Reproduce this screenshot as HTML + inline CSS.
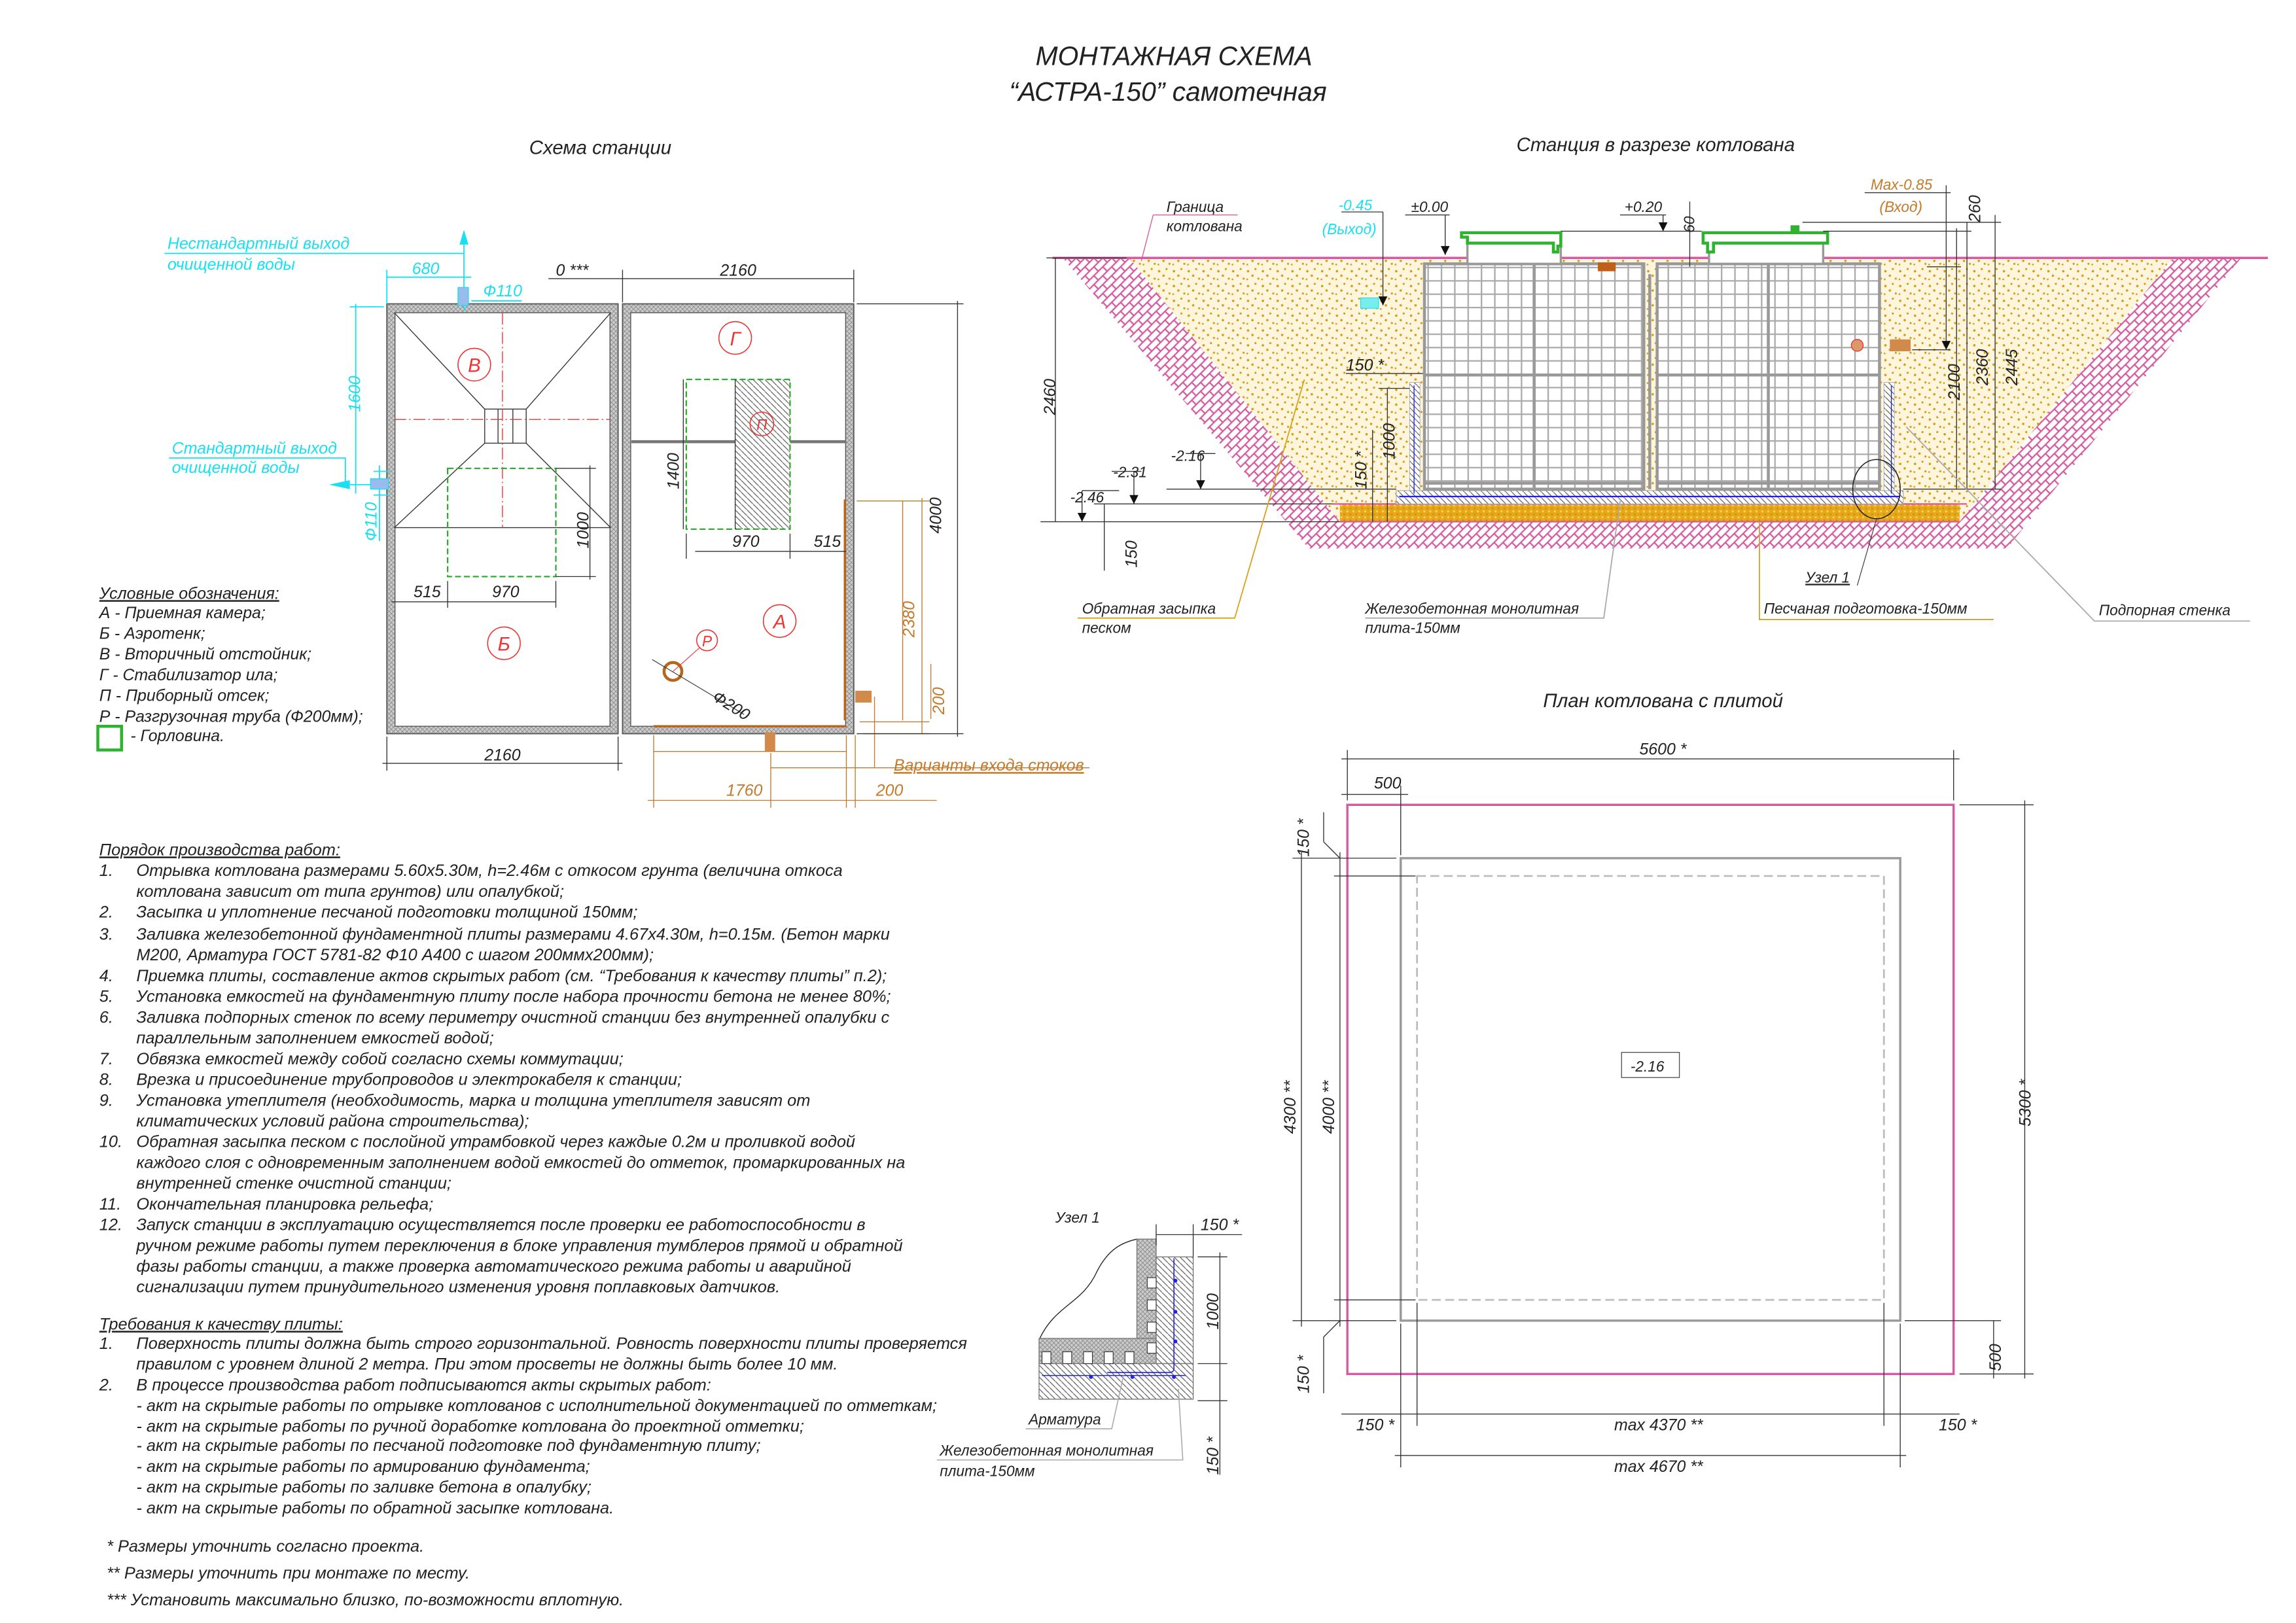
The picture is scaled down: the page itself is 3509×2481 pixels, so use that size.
<!DOCTYPE html>
<html><head><meta charset="utf-8"><style>
html,body{margin:0;padding:0;background:#fff;}
svg{display:block;}
text{font-family:"Liberation Sans","DejaVu Sans",sans-serif;font-style:italic;fill:#222;}
</style></head><body>
<svg width="3509" height="2481" viewBox="0 0 1549 1095" preserveAspectRatio="none" xmlns="http://www.w3.org/2000/svg">
<defs>
<pattern id="sand" width="10" height="10" patternUnits="userSpaceOnUse">
<rect width="10" height="10" fill="#fdf6dc"/>
<circle cx="2" cy="3" r="0.8" fill="#d99a14"/><circle cx="7" cy="1.5" r="0.7" fill="#d99a14"/>
<circle cx="5" cy="6" r="0.8" fill="#d99a14"/><circle cx="9" cy="8" r="0.7" fill="#d99a14"/>
<circle cx="1.5" cy="8.5" r="0.6" fill="#d99a14"/>
</pattern>
<pattern id="hatch" width="6" height="6" patternUnits="userSpaceOnUse">
<rect width="6" height="6" fill="#fff"/>
<path d="M0 6 L6 0 M-1 1 L1 -1 M5 7 L7 5" stroke="#d65aa0" stroke-width="1"/>
<path d="M0 0 L3 3" stroke="#d65aa0" stroke-width="1"/>
</pattern>
<pattern id="wall" width="3" height="3" patternUnits="userSpaceOnUse">
<rect width="3" height="3" fill="#ccc"/><path d="M0 3 L3 0 M0 0 L3 3" stroke="#888" stroke-width="0.4"/>
</pattern>
<pattern id="diag" width="4" height="4" patternUnits="userSpaceOnUse">
<rect width="4" height="4" fill="#fff"/><path d="M0 0 L4 4" stroke="#555" stroke-width="0.5"/>
</pattern>
<pattern id="grid" width="9" height="9" patternUnits="userSpaceOnUse">
<rect width="9" height="9" fill="#fff"/><path d="M0 0.5 H9 M0.5 0 V9" stroke="#aaa" stroke-width="1"/>
</pattern>
<pattern id="slab" width="4" height="4" patternUnits="userSpaceOnUse">
<rect width="4" height="4" fill="#e6a817"/><circle cx="1" cy="1" r="0.7" fill="#f7d36a"/><circle cx="3" cy="3" r="0.6" fill="#c98c0e"/>
</pattern>
</defs>

<text x="792" y="44" font-size="18" text-anchor="middle">МОНТАЖНАЯ СХЕМА</text>
<text x="788" y="68" font-size="18" text-anchor="middle">“АСТРА-150” самотечная</text>
<text x="405" y="104" font-size="13" text-anchor="middle">Схема станции</text>
<text x="1117" y="102" font-size="13" text-anchor="middle">Станция в разрезе котлована</text>
<text x="1122" y="477" font-size="13" text-anchor="middle">План котлована с плитой</text>

<!-- ===== Station scheme ===== -->
<g>
<rect x="261" y="205" width="156" height="290" fill="url(#wall)" stroke="#555" stroke-width="0.8"/>
<rect x="266.5" y="211" width="145" height="279" fill="#fff" stroke="#555" stroke-width="0.6"/>
<rect x="420" y="205" width="156" height="290" fill="url(#wall)" stroke="#555" stroke-width="0.8"/>
<rect x="425.5" y="211" width="145" height="279" fill="#fff" stroke="#555" stroke-width="0.6"/>
<g stroke="#333" stroke-width="0.6" fill="none">
<line x1="266" y1="211" x2="327" y2="276"/><line x1="412" y1="211" x2="355" y2="276"/>
<line x1="327" y1="299" x2="266" y2="356"/><line x1="355" y1="299" x2="412" y2="356"/>
<line x1="266" y1="356" x2="412" y2="356"/>
<rect x="327" y="276" width="28" height="23"/><line x1="336" y1="276" x2="336" y2="299"/><line x1="346" y1="276" x2="346" y2="299"/>
</g>
<line x1="266" y1="283" x2="412" y2="283" stroke="#e33" stroke-width="0.6" stroke-dasharray="8,2,1,2"/>
<line x1="339" y1="211" x2="339" y2="356" stroke="#e33" stroke-width="0.6" stroke-dasharray="8,2,1,2"/>
<rect x="302" y="316" width="73" height="73" fill="none" stroke="#3a3" stroke-width="1" stroke-dasharray="4,2"/>
<rect x="496" y="256" width="37" height="101" fill="url(#diag)"/>
<line x1="426" y1="298" x2="496" y2="298" stroke="#777" stroke-width="2"/><line x1="533" y1="298" x2="571" y2="298" stroke="#777" stroke-width="2"/>
<rect x="463" y="256" width="70" height="101" fill="none" stroke="#3a3" stroke-width="1" stroke-dasharray="4,2"/>
<line x1="496" y1="256" x2="496" y2="357" stroke="#333" stroke-width="0.6"/>
<g fill="none" stroke="#e33" stroke-width="0.7">
<circle cx="320" cy="246" r="11"/><circle cx="496" cy="228" r="11"/><circle cx="514" cy="286" r="8"/>
<circle cx="340" cy="434" r="11"/><circle cx="526" cy="419" r="11"/><circle cx="477" cy="432" r="7"/>
</g>
<g font-size="13" text-anchor="middle">
<text x="320" y="251" style="fill:#e33">В</text><text x="496" y="233" style="fill:#e33">Г</text><text x="514" y="290" font-size="10" style="fill:#e33">П</text>
<text x="340" y="439" style="fill:#e33">Б</text><text x="526" y="424" style="fill:#e33">А</text><text x="477" y="436" font-size="10" style="fill:#e33">Р</text>
</g>
<circle cx="454" cy="453" r="6" fill="none" stroke="#b8651b" stroke-width="2"/>
<line x1="454" y1="453" x2="472" y2="437" stroke="#e33" stroke-width="0.5"/>
<line x1="440" y1="445" x2="502" y2="482" stroke="#333" stroke-width="0.5"/>
<text x="480" y="472" font-size="11" transform="rotate(32 480 472)">Ф200</text>
<line x1="570" y1="337" x2="570" y2="486" stroke="#b8651b" stroke-width="1.5"/>
<line x1="441" y1="490" x2="571" y2="490" stroke="#b8651b" stroke-width="1.5"/>
<rect x="577" y="466" width="11" height="8" fill="#d18a4a"/>
<rect x="516" y="494" width="7" height="13" fill="#d18a4a"/>
<g stroke="#c47a2a" stroke-width="0.6" fill="none">
<line x1="590" y1="470" x2="590" y2="518"/><line x1="520" y1="518" x2="735" y2="518"/>
<line x1="520" y1="508" x2="520" y2="545"/>
<line x1="441" y1="496" x2="441" y2="545"/><line x1="571" y1="496" x2="571" y2="545"/>
<line x1="577" y1="496" x2="577" y2="545"/><line x1="437" y1="540" x2="632" y2="540"/>
<line x1="441" y1="507" x2="571" y2="507"/>
<line x1="578" y1="338" x2="627" y2="338"/><line x1="622" y1="336" x2="622" y2="495"/>
<line x1="580" y1="487" x2="627" y2="487"/><line x1="582" y1="495" x2="627" y2="495"/>
<line x1="609" y1="338" x2="609" y2="486"/><line x1="628" y1="448" x2="628" y2="485"/>
</g>
<text x="617" y="430" font-size="11" transform="rotate(-90 617 430)" style="fill:#c47a2a">2380</text>
<text x="637" y="482" font-size="11" transform="rotate(-90 637 482)" style="fill:#c47a2a">200</text>
<text x="490" y="537" font-size="11" style="fill:#c47a2a">1760</text>
<text x="591" y="537" font-size="11" style="fill:#c47a2a">200</text>
<text x="603" y="520" font-size="11" style="fill:#c47a2a" text-decoration="underline">Варианты входа стоков</text>
<g stroke="#333" stroke-width="0.6">
<line x1="420" y1="182" x2="420" y2="204"/><line x1="576" y1="182" x2="576" y2="204"/>
<line x1="370" y1="188" x2="576" y2="188"/>
<line x1="578" y1="205" x2="650" y2="205"/><line x1="578" y1="495" x2="650" y2="495"/>
<line x1="646" y1="203" x2="646" y2="497"/>
<line x1="261" y1="497" x2="261" y2="520"/><line x1="417" y1="497" x2="417" y2="520"/>
<line x1="258" y1="515" x2="420" y2="515"/>
<line x1="264" y1="406" x2="375" y2="406"/><line x1="302" y1="392" x2="302" y2="410"/><line x1="375" y1="392" x2="375" y2="410"/>
<line x1="375" y1="316" x2="402" y2="316"/><line x1="375" y1="389" x2="402" y2="389"/><line x1="398" y1="314" x2="398" y2="391"/>
<line x1="461" y1="256" x2="461" y2="357"/>
<line x1="469" y1="372" x2="571" y2="372"/><line x1="463" y1="360" x2="463" y2="377"/><line x1="533" y1="360" x2="533" y2="377"/>
</g>
<text x="498" y="186" font-size="11" text-anchor="middle">2160</text>
<text x="375" y="186" font-size="11">0 ***</text>
<text x="635" y="360" font-size="11" transform="rotate(-90 635 360)">4000</text>
<text x="339" y="513" font-size="11" text-anchor="middle">2160</text>
<text x="279" y="403" font-size="11">515</text><text x="332" y="403" font-size="11">970</text>
<text x="397" y="370" font-size="11" transform="rotate(-90 397 370)">1000</text>
<text x="458" y="330" font-size="11" transform="rotate(-90 458 330)">1400</text>
<text x="494" y="369" font-size="11">970</text><text x="549" y="369" font-size="11">515</text>
<!-- cyan -->
<g stroke="#19e0f0" stroke-width="0.8" fill="none">
<line x1="111" y1="171" x2="313" y2="171"/>
<line x1="313" y1="210" x2="313" y2="160"/>
<line x1="261" y1="187" x2="318" y2="187"/><line x1="261" y1="182" x2="261" y2="205"/>
<line x1="240" y1="205" x2="240" y2="333"/><line x1="236" y1="207" x2="259" y2="207"/>
<polyline points="114,309 233,309 233,327 250,327"/>
<line x1="252" y1="318" x2="263" y2="318"/><line x1="252" y1="334" x2="263" y2="334"/>
<line x1="256" y1="314" x2="256" y2="365"/>
<line x1="318" y1="203" x2="352" y2="203"/>
</g>
<polygon points="222,327 236,324 236,330" fill="#19e0f0"/>
<polygon points="313,155 310,165 316,165" fill="#19e0f0"/>
<rect x="309" y="194" width="7" height="12" fill="#9be" stroke="#19e0f0" stroke-width="0.6"/>
<rect x="250" y="323" width="12" height="7" fill="#9be" stroke="#19e0f0" stroke-width="0.6"/>
<text x="113" y="168" font-size="11" style="fill:#19e0f0">Нестандартный выход</text>
<text x="113" y="182" font-size="11" style="fill:#19e0f0">очищенной воды</text>
<text x="278" y="185" font-size="11" style="fill:#19e0f0">680</text>
<text x="326" y="200" font-size="11" style="fill:#19e0f0">Ф110</text>
<text x="243" y="278" font-size="11" style="fill:#19e0f0" transform="rotate(-90 243 278)">1600</text>
<text x="116" y="306" font-size="11" style="fill:#19e0f0">Стандартный выход</text>
<text x="116" y="319" font-size="11" style="fill:#19e0f0">очищенной воды</text>
<text x="254" y="365" font-size="11" style="fill:#19e0f0" transform="rotate(-90 254 365)">Ф110</text>
</g>

<g font-size="11">
<text x="67" y="404" text-decoration="underline">Условные обозначения:</text>
<text x="67" y="417">А - Приемная камера;</text>
<text x="67" y="431">Б - Аэротенк;</text>
<text x="67" y="445">В - Вторичный отстойник;</text>
<text x="67" y="459">Г - Стабилизатор ила;</text>
<text x="67" y="473">П - Приборный отсек;</text>
<text x="67" y="487">Р - Разгрузочная труба (Ф200мм);</text>
<text x="88" y="500">- Горловина.</text>
</g>
<rect x="66" y="490" width="16" height="16" fill="none" stroke="#2db32d" stroke-width="2"/>

<!-- ===== Section ===== -->
<polygon points="717,174 883,370 1354,370 1512,174 1466,174 1322,352 904,352 762,174" fill="url(#hatch)"/>
<polygon points="762,174 904,352 1322,352 1466,174" fill="url(#sand)"/>
<rect x="904" y="340" width="418" height="12" fill="url(#slab)"/>
<line x1="710" y1="174" x2="1530" y2="174" stroke="#d65aa0" stroke-width="1.5"/>
<line x1="904" y1="352" x2="1322" y2="352" stroke="#d65aa0" stroke-width="1"/>
<line x1="899" y1="340" x2="1327" y2="340" stroke="#d65aa0" stroke-width="1"/>
<rect x="942" y="331" width="342" height="9" fill="url(#diag)" stroke="#aaa" stroke-width="0.5"/>
<rect x="951" y="258" width="7" height="73" fill="url(#diag)" stroke="#aaa" stroke-width="0.4"/>
<rect x="1271" y="258" width="7" height="73" fill="url(#diag)" stroke="#aaa" stroke-width="0.4"/>
<line x1="944" y1="335" x2="1282" y2="335" stroke="#22d" stroke-width="1"/>
<line x1="954" y1="260" x2="954" y2="333" stroke="#22d" stroke-width="0.6"/>
<line x1="1276" y1="260" x2="1276" y2="333" stroke="#22d" stroke-width="0.6"/>
<rect x="961" y="178" width="148" height="152" fill="url(#grid)" stroke="#999" stroke-width="2"/>
<rect x="1118" y="178" width="150" height="152" fill="url(#grid)" stroke="#999" stroke-width="2"/>
<g stroke="#999" stroke-width="2">
<line x1="961" y1="253" x2="1109" y2="253"/><line x1="1118" y1="253" x2="1268" y2="253"/>
<line x1="1035" y1="178" x2="1035" y2="330"/><line x1="1193" y1="178" x2="1193" y2="330"/>
<line x1="1113" y1="185" x2="1113" y2="330"/>
<line x1="961" y1="326" x2="1109" y2="326"/><line x1="1118" y1="326" x2="1268" y2="326"/>
</g>
<rect x="990" y="164" width="63" height="14" fill="#fff" stroke="#999" stroke-width="1.5"/>
<rect x="1153" y="164" width="77" height="14" fill="#fff" stroke="#999" stroke-width="1.5"/>
<path d="M986 157 H1053 V166 H1051 V170 H1048 V164 H990 V160 H986 Z" fill="#fff" stroke="#2db32d" stroke-width="2"/>
<path d="M1149 157 H1233 V164 H1156 V170 H1152 V164 H1149 Z" fill="#fff" stroke="#2db32d" stroke-width="2"/>
<rect x="1208" y="152" width="6" height="4" fill="#2db32d"/>
<rect x="1078" y="177" width="12" height="6" fill="#c05e1a"/>
<rect x="918" y="201" width="12" height="7" fill="#7ee" stroke="#19e0f0" stroke-width="0.5"/>
<rect x="1275" y="229" width="14" height="8" fill="#d18a4a"/>
<circle cx="1253" cy="233" r="4" fill="#d99a6a" stroke="#e33" stroke-width="0.6"/>
<ellipse cx="1266" cy="330" rx="16" ry="20" fill="none" stroke="#222" stroke-width="0.7"/>
<g stroke="#333" stroke-width="0.6" fill="none">
<line x1="712" y1="174" x2="712" y2="352"/><line x1="706" y1="174" x2="760" y2="174"/>
<line x1="702" y1="352" x2="904" y2="352"/>
<line x1="738" y1="340" x2="899" y2="340"/><line x1="787" y1="330" x2="942" y2="330"/>
<line x1="730" y1="331" x2="755" y2="331"/><line x1="730" y1="331" x2="730" y2="352"/>
<line x1="750" y1="318" x2="770" y2="318"/><line x1="765" y1="318" x2="765" y2="340"/>
<line x1="800" y1="306" x2="820" y2="306"/><line x1="810" y1="306" x2="810" y2="330"/>
<line x1="745" y1="340" x2="745" y2="385"/>
<line x1="908" y1="252" x2="960" y2="252"/>
<line x1="936" y1="262" x2="936" y2="352"/><line x1="930" y1="262" x2="951" y2="262"/>
<line x1="926" y1="290" x2="926" y2="352"/>
<line x1="905" y1="143" x2="933" y2="143"/><line x1="933" y1="143" x2="933" y2="206"/>
<line x1="948" y1="145" x2="978" y2="145"/><line x1="975" y1="145" x2="975" y2="172"/>
<line x1="1093" y1="145" x2="1124" y2="145"/><line x1="1122" y1="145" x2="1122" y2="156"/>
<line x1="1053" y1="156" x2="1148" y2="156"/>
<line x1="1140" y1="136" x2="1140" y2="180"/>
<line x1="1258" y1="130" x2="1316" y2="130"/><line x1="1313" y1="125" x2="1313" y2="236"/>
<line x1="1230" y1="156" x2="1330" y2="156"/><line x1="1216" y1="150" x2="1350" y2="150"/>
<line x1="1300" y1="180" x2="1323" y2="180"/>
<line x1="1290" y1="236" x2="1316" y2="236"/>
<line x1="1320" y1="154" x2="1320" y2="330"/><line x1="1327" y1="150" x2="1327" y2="330"/>
<line x1="1346" y1="145" x2="1346" y2="330"/>
<line x1="1284" y1="330" x2="1350" y2="330"/>
</g>
<g fill="#111">
<polygon points="975,172 972,166 978,166"/><polygon points="1122,156 1119,150 1125,150"/>
<polygon points="933,206 930,200 936,200"/><polygon points="1313,236 1310,230 1316,230"/>
<polygon points="730,352 727,346 733,346"/><polygon points="765,340 762,334 768,334"/><polygon points="810,330 807,324 813,324"/>
</g>
<text x="712" y="280" font-size="11" transform="rotate(-90 712 280)">2460</text>
<text x="722" y="339" font-size="10">-2.46</text>
<text x="751" y="322" font-size="10">-2.31</text>
<text x="790" y="311" font-size="10">-2.16</text>
<text x="767" y="383" font-size="11" transform="rotate(-90 767 383)">150</text>
<text x="908" y="250" font-size="11">150 *</text>
<text x="941" y="310" font-size="11" transform="rotate(-90 941 310)">1000</text>
<text x="922" y="330" font-size="11" transform="rotate(-90 922 330)">150 *</text>
<text x="1322" y="270" font-size="11" transform="rotate(-90 1322 270)">2100</text>
<text x="1341" y="260" font-size="11" transform="rotate(-90 1341 260)">2360</text>
<text x="1361" y="260" font-size="11" transform="rotate(-90 1361 260)">2445</text>
<text x="1336" y="150" font-size="11" transform="rotate(-90 1336 150)">260</text>
<text x="1143" y="157" font-size="10" transform="rotate(-90 1143 157)">60</text>
<text x="952" y="143" font-size="10">±0.00</text>
<text x="1096" y="143" font-size="10">+0.20</text>
<text x="903" y="142" font-size="10" style="fill:#19e0f0">-0.45</text>
<text x="892" y="158" font-size="10" style="fill:#19e0f0">(Выход)</text>
<text x="1262" y="128" font-size="10" style="fill:#c47a2a">Max-0.85</text>
<text x="1268" y="143" font-size="10" style="fill:#c47a2a">(Вход)</text>
<text x="787" y="143" font-size="10">Граница</text>
<text x="787" y="156" font-size="10">котлована</text>
<line x1="778" y1="145" x2="835" y2="145" stroke="#d65aa0" stroke-width="0.6"/>
<line x1="778" y1="145" x2="770" y2="176" stroke="#d65aa0" stroke-width="0.6"/>
<text x="730" y="414" font-size="10">Обратная засыпка</text>
<text x="730" y="427" font-size="10">песком</text>
<polyline points="727,417 833,417 880,256" fill="none" stroke="#d9a21b" stroke-width="0.8"/>
<text x="921" y="414" font-size="10">Железобетонная монолитная</text>
<text x="921" y="427" font-size="10">плита-150мм</text>
<polyline points="921,417 1082,417 1093,338" fill="none" stroke="#aaa" stroke-width="0.8"/>
<text x="1218" y="393" font-size="10" text-decoration="underline">Узел 1</text>
<line x1="1253" y1="395" x2="1266" y2="350" stroke="#333" stroke-width="0.5"/>
<text x="1190" y="414" font-size="10">Песчаная подготовка-150мм</text>
<polyline points="1345,418 1187,418 1187,352" fill="none" stroke="#d9a21b" stroke-width="0.8"/>
<text x="1416" y="415" font-size="10">Подпорная стенка</text>
<polyline points="1518,419 1413,419 1286,288" fill="none" stroke="#aaa" stroke-width="0.8"/>

<!-- ===== Plan ===== -->
<rect x="909" y="543" width="409" height="384" fill="none" stroke="#d65aa0" stroke-width="1.5"/>
<rect x="945" y="579" width="337" height="312" fill="none" stroke="#999" stroke-width="1.5"/>
<rect x="956" y="591" width="315" height="286" fill="none" stroke="#bbb" stroke-width="1.2" stroke-dasharray="6,3"/>
<rect x="1094" y="710" width="39" height="17" fill="#fff" stroke="#555" stroke-width="0.6"/>
<text x="1100" y="723" font-size="10">-2.16</text>
<g stroke="#333" stroke-width="0.6" fill="none">
<line x1="905" y1="512" x2="1322" y2="512"/><line x1="909" y1="506" x2="909" y2="540"/><line x1="1318" y1="506" x2="1318" y2="540"/>
<line x1="905" y1="536" x2="950" y2="536"/><line x1="945" y1="530" x2="945" y2="577"/>
<line x1="1322" y1="543" x2="1372" y2="543"/><line x1="1366" y1="540" x2="1366" y2="930"/><line x1="1322" y1="927" x2="1372" y2="927"/>
<line x1="1345" y1="891" x2="1345" y2="930"/><line x1="1285" y1="891" x2="1350" y2="891"/>
<line x1="872" y1="579" x2="942" y2="579"/><line x1="872" y1="891" x2="942" y2="891"/>
<line x1="878" y1="575" x2="878" y2="895"/>
<line x1="900" y1="591" x2="955" y2="591"/><line x1="900" y1="877" x2="955" y2="877"/>
<line x1="904" y1="575" x2="904" y2="895"/>
<line x1="904" y1="579" x2="893" y2="568"/><line x1="893" y1="568" x2="893" y2="548"/>
<line x1="904" y1="891" x2="893" y2="902"/><line x1="893" y1="902" x2="893" y2="940"/>
<line x1="945" y1="893" x2="945" y2="990"/><line x1="956" y1="879" x2="956" y2="962"/>
<line x1="1271" y1="879" x2="1271" y2="962"/><line x1="1282" y1="893" x2="1282" y2="990"/>
<line x1="905" y1="954" x2="1322" y2="954"/>
<line x1="941" y1="982" x2="1286" y2="982"/>
</g>
<text x="1106" y="509" font-size="11">5600 *</text>
<text x="927" y="532" font-size="11">500</text>
<text x="1370" y="760" font-size="11" transform="rotate(-90 1370 760)">5300 *</text>
<text x="1350" y="925" font-size="11" transform="rotate(-90 1350 925)">500</text>
<text x="874" y="765" font-size="11" transform="rotate(-90 874 765)">4300 **</text>
<text x="900" y="765" font-size="11" transform="rotate(-90 900 765)">4000 **</text>
<text x="883" y="578" font-size="11" transform="rotate(-90 883 578)">150 *</text>
<text x="883" y="940" font-size="11" transform="rotate(-90 883 940)">150 *</text>
<text x="915" y="965" font-size="11">150 *</text>
<text x="1089" y="965" font-size="11">max 4370 **</text>
<text x="1308" y="965" font-size="11">150 *</text>
<text x="1089" y="993" font-size="11">max 4670 **</text>

<!-- ===== Node 1 ===== -->
<text x="712" y="825" font-size="10">Узел 1</text>
<path d="M701 904 C712 880 730 880 740 858 C748 842 758 838 767 836" fill="none" stroke="#222" stroke-width="0.6"/>
<rect x="767" y="836" width="13" height="84" fill="url(#wall)" stroke="#777" stroke-width="0.6"/>
<rect x="701" y="903" width="79" height="17" fill="url(#wall)" stroke="#777" stroke-width="0.6"/>
<rect x="780" y="848" width="25" height="72" fill="url(#diag)" stroke="#777" stroke-width="0.6"/>
<rect x="701" y="920" width="104" height="24" fill="url(#diag)" stroke="#777" stroke-width="0.6"/>
<g fill="#fff" stroke="#333" stroke-width="0.5">
<rect x="703" y="912" width="6" height="8"/><rect x="717" y="912" width="6" height="8"/><rect x="731" y="912" width="6" height="8"/><rect x="745" y="912" width="6" height="8"/><rect x="759" y="912" width="6" height="8"/>
<rect x="774" y="862" width="6" height="7"/><rect x="774" y="877" width="6" height="7"/><rect x="774" y="892" width="6" height="7"/><rect x="774" y="906" width="6" height="7"/>
</g>
<path d="M792 849 V923 Q792 926 789 926 H747" fill="none" stroke="#22d" stroke-width="0.7"/>
<line x1="703" y1="928" x2="800" y2="928" stroke="#22d" stroke-width="0.7"/>
<g fill="#22d"><circle cx="793" cy="864" r="1.3"/><circle cx="793" cy="885" r="1.3"/><circle cx="793" cy="905" r="1.3"/><circle cx="736" cy="929" r="1.3"/><circle cx="764" cy="929" r="1.3"/><circle cx="792" cy="929" r="1.3"/></g>
<g stroke="#333" stroke-width="0.6">
<line x1="780" y1="833" x2="838" y2="833"/><line x1="780" y1="826" x2="780" y2="840"/><line x1="805" y1="826" x2="805" y2="848"/>
<line x1="808" y1="848" x2="828" y2="848"/><line x1="808" y1="920" x2="828" y2="920"/><line x1="808" y1="945" x2="828" y2="945"/>
<line x1="823" y1="845" x2="823" y2="995"/>
</g>
<text x="810" y="830" font-size="11">150 *</text>
<text x="822" y="897" font-size="11" transform="rotate(-90 822 897)">1000</text>
<text x="822" y="995" font-size="11" transform="rotate(-90 822 995)">150 *</text>
<text x="694" y="961" font-size="10">Арматура</text>
<polyline points="692,964 750,964 758,928" fill="none" stroke="#aaa" stroke-width="0.7"/>
<text x="634" y="982" font-size="10">Железобетонная монолитная</text>
<text x="634" y="996" font-size="10">плита-150мм</text>
<polyline points="632,985 798,985 795,937" fill="none" stroke="#aaa" stroke-width="0.7"/>

<!-- ===== Notes ===== -->
<g font-size="11.2">
<text x="67" y="577" text-decoration="underline">Порядок производства работ:</text>
<text x="67" y="591">1.</text><text x="92" y="591">Отрывка котлована размерами 5.60x5.30м, h=2.46м с откосом грунта (величина откоса</text>
<text x="92" y="605">котлована зависит от типа грунтов) или опалубкой;</text>
<text x="67" y="619">2.</text><text x="92" y="619">Засыпка и уплотнение песчаной подготовки толщиной 150мм;</text>
<text x="67" y="634">3.</text><text x="92" y="634">Заливка железобетонной фундаментной плиты размерами 4.67x4.30м, h=0.15м. (Бетон марки</text>
<text x="92" y="648">М200, Арматура ГОСТ 5781-82 Ф10 А400 с шагом 200ммх200мм);</text>
<text x="67" y="662">4.</text><text x="92" y="662">Приемка плиты, составление актов скрытых работ (см. “Требования к качеству плиты” п.2);</text>
<text x="67" y="676">5.</text><text x="92" y="676">Установка емкостей на фундаментную плиту после набора прочности бетона не менее 80%;</text>
<text x="67" y="690">6.</text><text x="92" y="690">Заливка подпорных стенок по всему периметру очистной станции без внутренней опалубки с</text>
<text x="92" y="704">параллельным заполнением емкостей водой;</text>
<text x="67" y="718">7.</text><text x="92" y="718">Обвязка емкостей между собой согласно схемы коммутации;</text>
<text x="67" y="732">8.</text><text x="92" y="732">Врезка и присоединение трубопроводов и электрокабеля к станции;</text>
<text x="67" y="746">9.</text><text x="92" y="746">Установка утеплителя (необходимость, марка и толщина утеплителя зависят от</text>
<text x="92" y="760">климатических условий района строительства);</text>
<text x="67" y="774">10.</text><text x="92" y="774">Обратная засыпка песком с послойной утрамбовкой через каждые 0.2м и проливкой водой</text>
<text x="92" y="788">каждого слоя с одновременным заполнением водой емкостей до отметок, промаркированных на</text>
<text x="92" y="802">внутренней стенке очистной станции;</text>
<text x="67" y="816">11.</text><text x="92" y="816">Окончательная планировка рельефа;</text>
<text x="67" y="830">12.</text><text x="92" y="830">Запуск станции в эксплуатацию осуществляется после проверки ее работоспособности в</text>
<text x="92" y="844">ручном режиме работы путем переключения в блоке управления тумблеров прямой и обратной</text>
<text x="92" y="858">фазы работы станции, а также проверка автоматического режима работы и аварийной</text>
<text x="92" y="872">сигнализации путем принудительного изменения уровня поплавковых датчиков.</text>
<text x="67" y="897" text-decoration="underline">Требования к качеству плиты:</text>
<text x="67" y="910">1.</text><text x="92" y="910">Поверхность плиты должна быть строго горизонтальной. Ровность поверхности плиты проверяется</text>
<text x="92" y="924">правилом с уровнем длиной 2 метра. При этом просветы не должны быть более 10 мм.</text>
<text x="67" y="938">2.</text><text x="92" y="938">В процессе производства работ подписываются акты скрытых работ:</text>
<text x="92" y="952">- акт на скрытые работы по отрывке котлованов с исполнительной документацией по отметкам;</text>
<text x="92" y="966">- акт на скрытые работы по ручной доработке котлована до проектной отметки;</text>
<text x="92" y="979">- акт на скрытые работы по песчаной подготовке под фундаментную плиту;</text>
<text x="92" y="993">- акт на скрытые работы по армированию фундамента;</text>
<text x="92" y="1007">- акт на скрытые работы по заливке бетона в опалубку;</text>
<text x="92" y="1021">- акт на скрытые работы по обратной засыпке котлована.</text>
<text x="72" y="1047">* Размеры уточнить согласно проекта.</text>
<text x="72" y="1065">** Размеры уточнить при монтаже по месту.</text>
<text x="72" y="1083">*** Установить максимально близко, по-возможности вплотную.</text>
</g>
</svg>
</body></html>
